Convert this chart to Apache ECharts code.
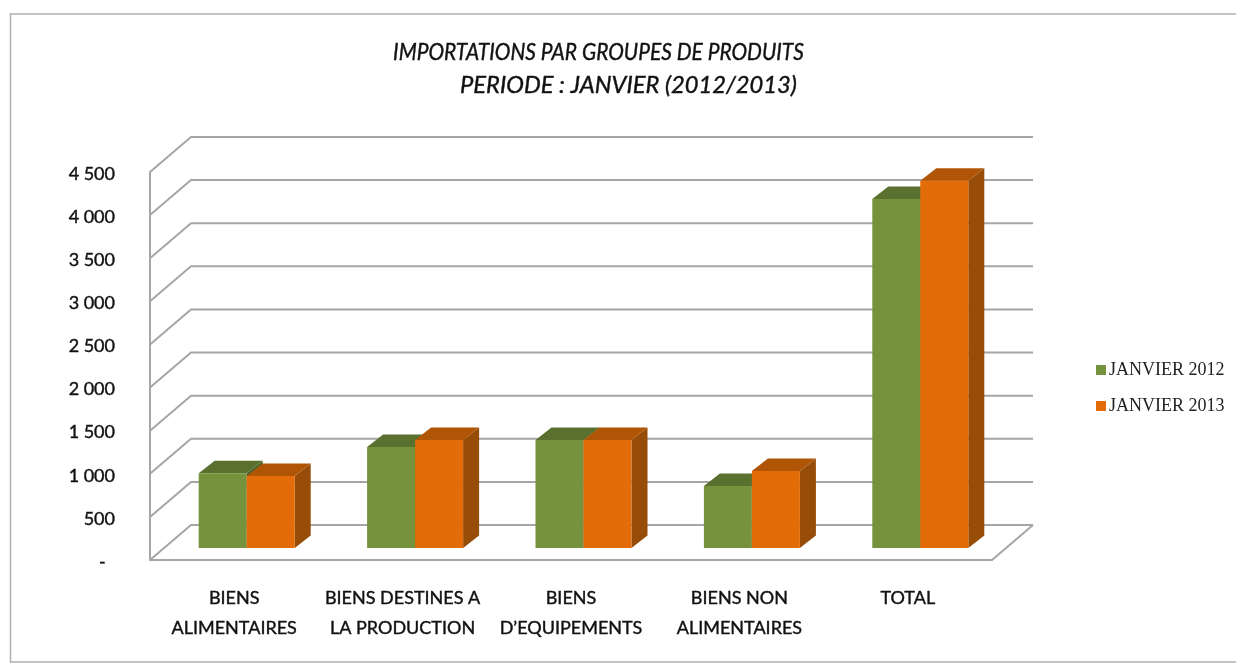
<!DOCTYPE html>
<html><head><meta charset="utf-8">
<style>html,body{margin:0;padding:0;background:#fff}#c{width:1236px;height:664px}</style>
<script src="https://cdn.jsdelivr.net/npm/echarts@6/dist/echarts.min.js"></script>
</head><body><div id="c"></div>
<script>
const categories = ['BIENS\nALIMENTAIRES','BIENS DESTINES A\nLA PRODUCTION','BIENS\nD\u2019EQUIPEMENTS','BIENS NON\nALIMENTAIRES','TOTAL'];
const janvier2012 = [866,1171,1253,719,4048];
const janvier2013 = [835,1253,1253,893,4260];
const yTicks = [0,500,1000,1500,2000,2500,3000,3500,4000,4500];
const titleLine1 = 'IMPORTATIONS PAR GROUPES DE PRODUITS';
const titleLine2 = 'PERIODE : JANVIER (2012/2013)';

const WALL_DX = 41, WALL_DY = -35, BAR_DX = 16, BAR_DY = -12.5, BAR_W = 48, LIFT = 12, INSET = 12.5;
const GRID_COLOR = '#a6a6a6';

function wallItem(params, api) {
  const cs = params.coordSys, v = api.value(1);
  const p = api.coord([0, v]);
  const y = p[1], xL = cs.x, xR = cs.x + cs.width;
  const children = [{
    type: 'polyline',
    shape: { points: [[xL, y], [xL + WALL_DX, y + WALL_DY], [xR + WALL_DX, y + WALL_DY]] },
    style: { stroke: GRID_COLOR, lineWidth: 2, fill: null }
  }];
  if (v === 0) children.push({
    type: 'line',
    shape: { x1: xR + WALL_DX, y1: y + WALL_DY, x2: xR, y2: y },
    style: { stroke: GRID_COLOR, lineWidth: 2 }
  });
  return { type: 'group', children };
}

function barItem(side, front, top, right) {
  return function (params, api) {
    const i = api.value(0), v = api.value(1);
    const c = api.coord([i, v]), b = api.coord([i, 0]);
    const x0 = c[0] + INSET + (side < 0 ? -BAR_W : 0), x1 = x0 + BAR_W;
    const yT = c[1] - LIFT, yB = b[1] - LIFT;
    return { type: 'group', children: [
      { type: 'polygon', shape: { points: [[x1, yT], [x1 + BAR_DX, yT + BAR_DY], [x1 + BAR_DX, yB + BAR_DY], [x1, yB]] }, style: { fill: right } },
      { type: 'polygon', shape: { points: [[x0, yT], [x0 + BAR_DX, yT + BAR_DY], [x1 + BAR_DX, yT + BAR_DY], [x1, yT]] }, style: { fill: top } },
      { type: 'rect', shape: { x: x0, y: yT, width: BAR_W, height: yB - yT }, style: { fill: front } }
    ] };
  };
}

function titleText(text, x, y, sx) {
  return {
    type: 'text', x, y, scaleX: sx, silent: true, z: 10,
    style: { text, align: 'center', verticalAlign: 'middle', fontFamily: 'Lato', fontStyle: 'italic', fontSize: 23, fill: '#111', stroke: '#111', lineWidth: 0.4 }
  };
}

const chart = echarts.init(document.getElementById('c'), null, { renderer: 'canvas' });
chart.setOption({
  animation: false,
  backgroundColor: '#fff',
  legend: {
    orient: 'vertical', left: 1096, top: 361, padding: 0, itemWidth: 10, itemHeight: 10, itemGap: 18, icon: 'rect',
    data: ['JANVIER 2012', 'JANVIER 2013'],
    textStyle: { fontFamily: 'Liberation Serif', fontSize: 18, lineHeight: 18, color: '#222', padding: [0, 0, 0, -2] }
  },
  grid: { left: 150, top: 172, width: 842, height: 388, containLabel: false },
  xAxis: {
    type: 'category', data: categories,
    axisLine: { lineStyle: { color: GRID_COLOR, width: 2 } },
    axisTick: { show: false },
    axisLabel: { fontFamily: 'Lato', fontSize: 18, lineHeight: 30, color: '#111', margin: 23, interval: 0, textBorderColor: '#111', textBorderWidth: 0.4 }
  },
  yAxis: {
    type: 'value', min: 0, max: 4500, interval: 500,
    axisLine: { show: true, lineStyle: { color: GRID_COLOR, width: 2 } },
    axisTick: { show: false }, splitLine: { show: false },
    axisLabel: {
      fontFamily: 'Lato', fontSize: 18, color: '#111', margin: 35, verticalAlign: 'top', lineHeight: 4, textBorderColor: '#111', textBorderWidth: 0.4,
      formatter: v => v === 0 ? '-  ' : String(v).replace(/(\d)(\d{3})$/, '$1 $2')
    }
  },
  series: [
    { name: 'wall', type: 'custom', renderItem: wallItem, clip: false, silent: true, z: 1,
      data: yTicks.map(t => [0, t]), encode: { x: 0, y: 1 } },
    { name: 'JANVIER 2012', type: 'custom', clip: false, z: 2, itemStyle: { color: '#76923c' },
      renderItem: barItem(-1, '#76923c', '#5a702e', '#4f6228'),
      data: janvier2012.map((v, i) => [i, v]), encode: { x: 0, y: 1 } },
    { name: 'JANVIER 2013', type: 'custom', clip: false, z: 3, itemStyle: { color: '#e36c09' },
      renderItem: barItem(1, '#e36c09', '#b05506', '#974c08'),
      data: janvier2013.map((v, i) => [i, v]), encode: { x: 0, y: 1 } }
  ],
  graphic: [
    titleText(titleLine1, 598.5, 52.5, 0.91),
    titleText(titleLine2, 628.5, 86, 1.03),
    {
      type: 'rect', silent: true, z: -1,
      shape: { x: 10.5, y: 14, width: 1300, height: 648 },
      style: { fill: 'none', stroke: '#b0b0b0', lineWidth: 1.5 }
    }
  ]
});
</script></body></html>
